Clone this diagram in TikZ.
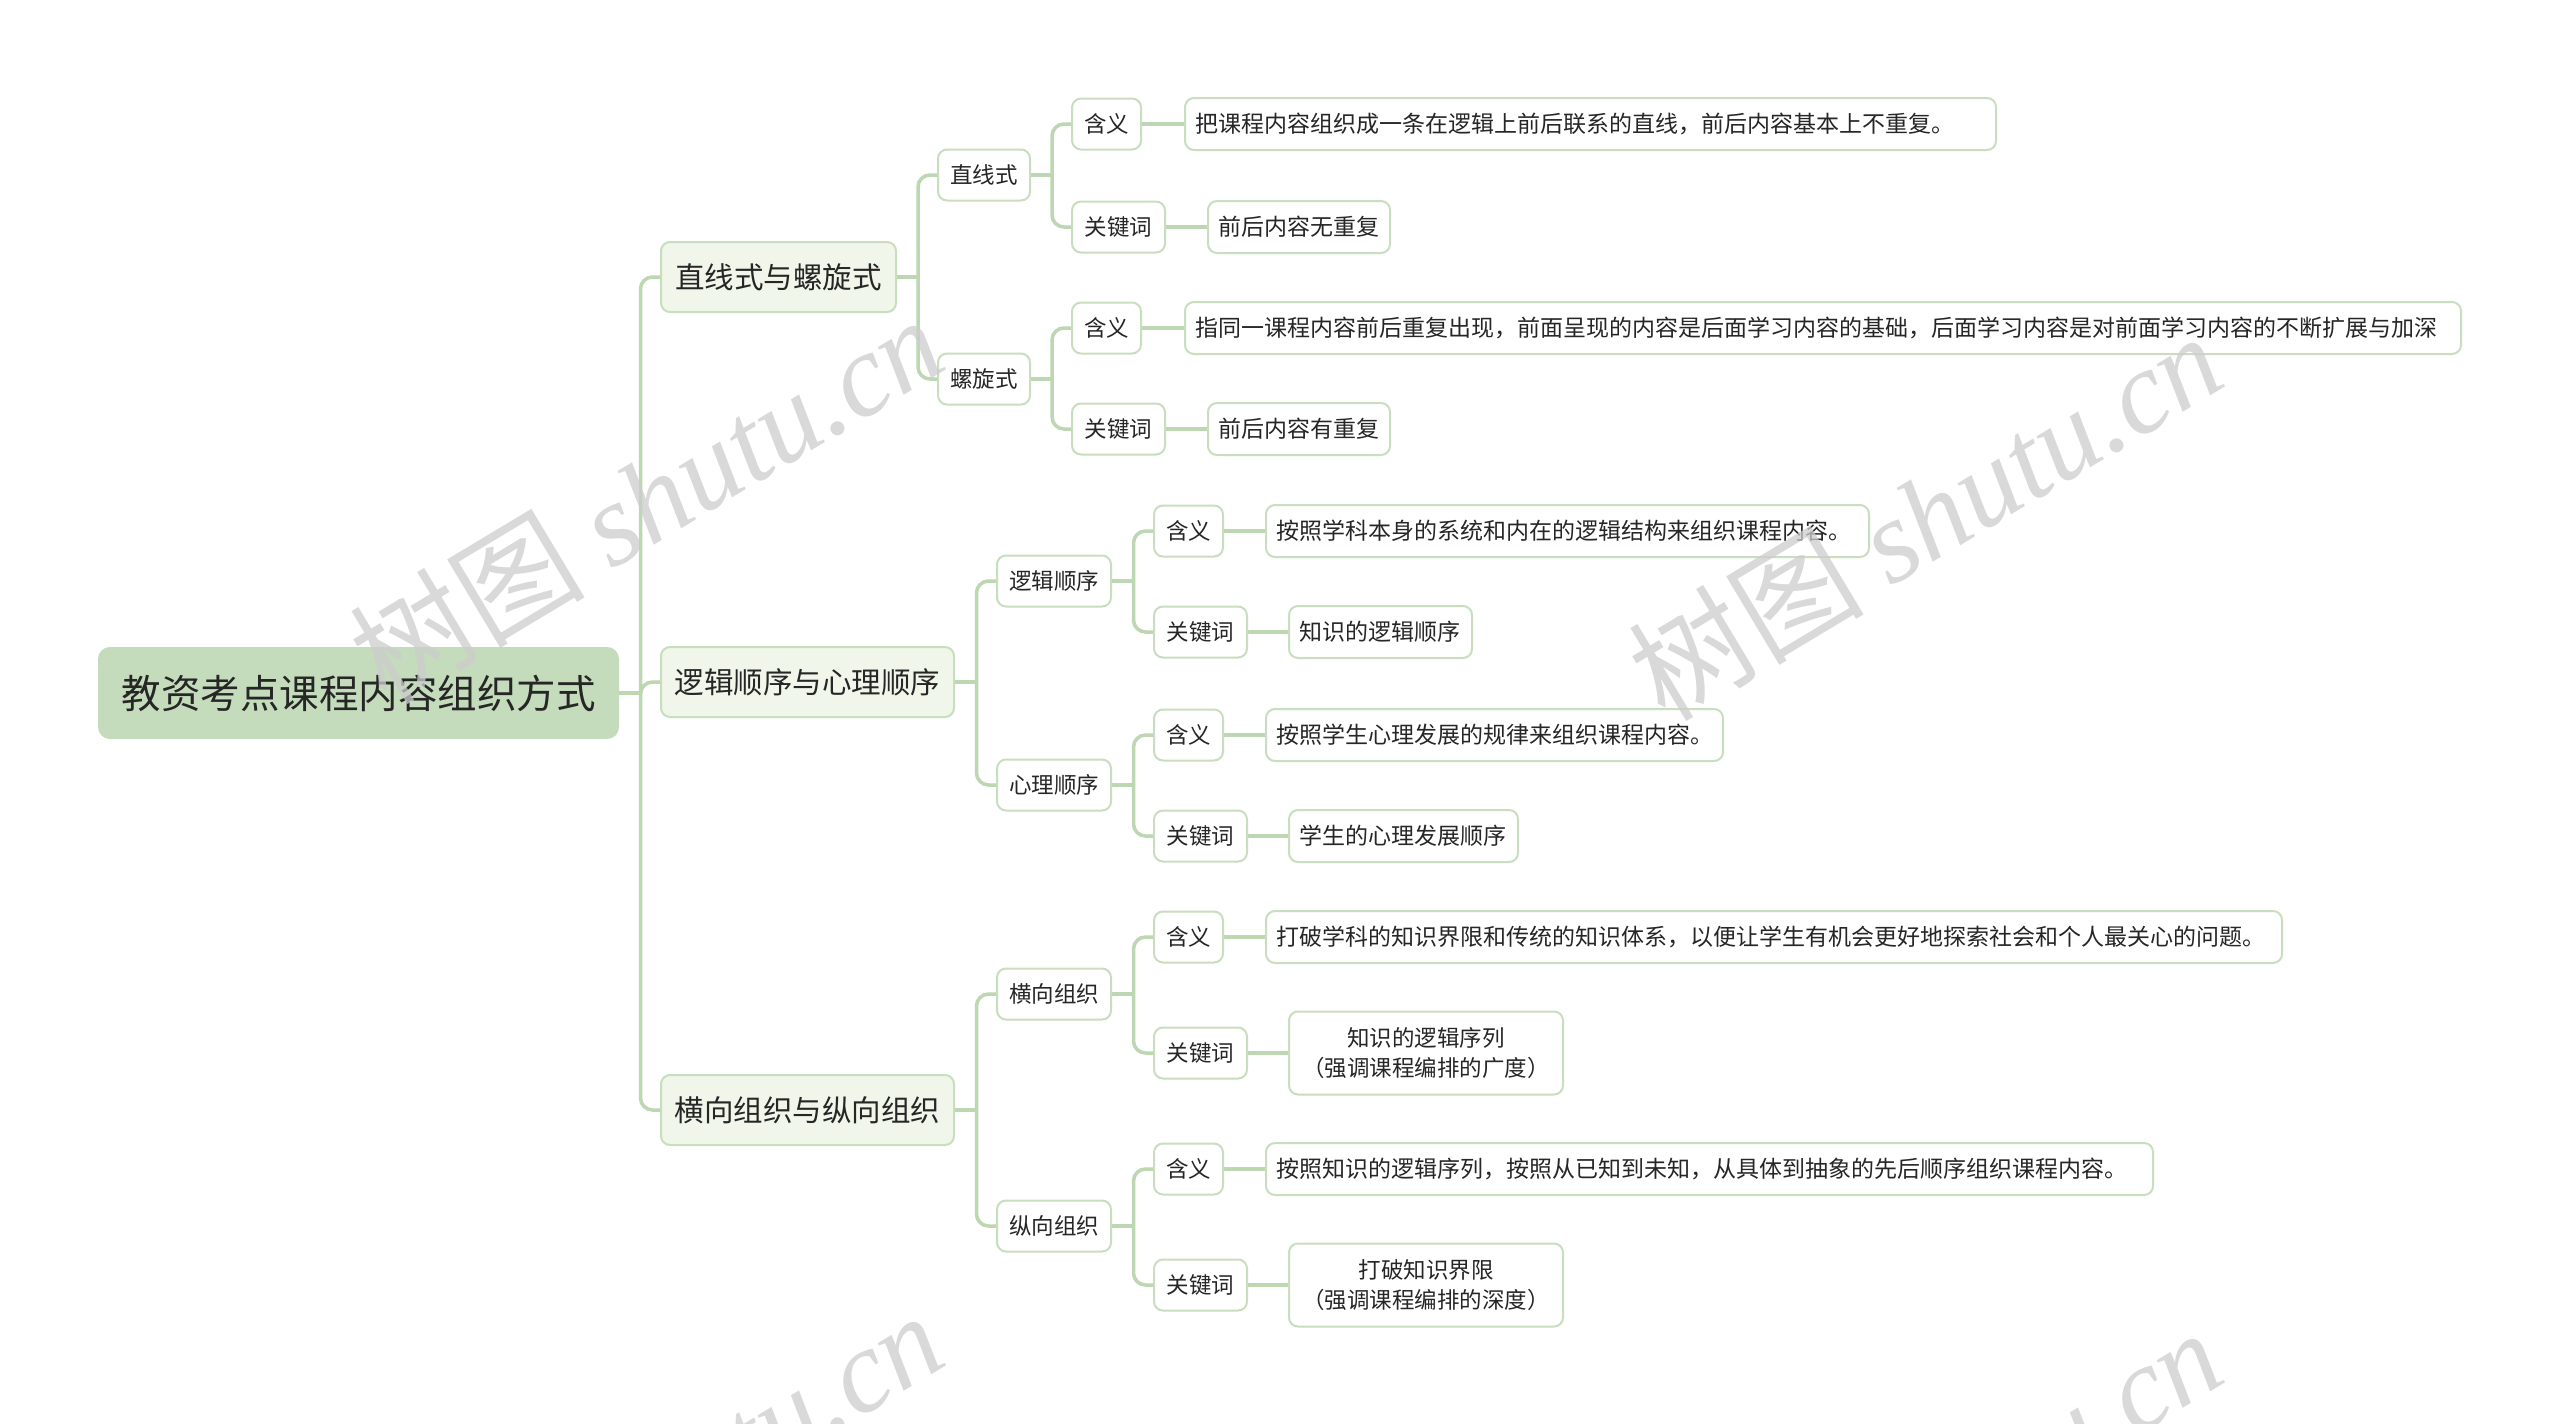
\documentclass[tikz,border=0pt]{standalone}
\usepackage{fontspec}
\newfontfamily\cjk{Noto Sans CJK SC}
\newfontfamily\wmserif{Liberation Serif}
\usetikzlibrary{calc}
\definecolor{linec}{RGB}{188,215,178}
\definecolor{borderc}{RGB}{200,222,190}
\definecolor{rootfill}{RGB}{196,220,188}
\definecolor{lonefill}{RGB}{240,247,234}
\definecolor{txt}{RGB}{38,38,38}
\definecolor{wmc}{RGB}{205,205,205}
\begin{document}
\begin{tikzpicture}[x=1pt,y=-1pt,
  base/.style={draw=borderc, line width=2pt, rounded corners=9pt, text=txt, inner sep=0pt, anchor=west},
  rootbox/.style={base, fill=rootfill, draw=rootfill, rounded corners=11pt, minimum width=519pt, minimum height=90pt, font=\cjk\fontsize{39.5}{47}\selectfont},
  lone/.style={base, fill=lonefill, minimum height=70pt, font=\cjk\fontsize{29.5}{35}\selectfont},
  ltwo/.style={base, fill=white, minimum height=51pt, font=\cjk\fontsize{22.5}{27}\selectfont},
  leaf/.style={base, fill=white, minimum height=52pt, inner xsep=10pt, align=left, font=\cjk\fontsize{23}{28}\selectfont},
  leaftwo/.style={base, fill=white, minimum height=83pt, inner xsep=10pt, align=center, font=\cjk\fontsize{22.5}{29.5}\selectfont},
  conn/.style={draw=linec, line width=3.5pt, rounded corners=12pt},
  wmark/.style={rotate=31, text=wmc, opacity=0.75, inner sep=0pt, font=\cjk\fontsize{118}{124}\selectfont}
]
\fill[white] (0,0) rectangle (2560,1424);
\useasboundingbox (0,0) rectangle (2560,1424);

% root
\node[rootbox] (root) at (98,693) {教资考点课程内容组织方式};

% level 1
\node[lone, minimum width=235pt] (A) at (660,277) {直线式与螺旋式};
\node[lone, minimum width=293pt] (B) at (660,682) {逻辑顺序与心理顺序};
\node[lone, minimum width=293pt] (C) at (660,1110) {横向组织与纵向组织};

% level 2
\node[ltwo, minimum width=92pt] (A1) at (937,175) {直线式};
\node[ltwo, minimum width=92pt] (A2) at (937,379) {螺旋式};
\node[ltwo, minimum width=114pt] (B1) at (996,581) {逻辑顺序};
\node[ltwo, minimum width=114pt] (B2) at (996,785) {心理顺序};
\node[ltwo, minimum width=114pt] (C1) at (996,994) {横向组织};
\node[ltwo, minimum width=114pt] (C2) at (996,1226) {纵向组织};

% level 3
\node[ltwo, minimum width=69pt] (A1m) at (1071,124) {含义};
\node[ltwo, minimum width=93pt] (A1k) at (1071,227) {关键词};
\node[ltwo, minimum width=69pt] (A2m) at (1071,328) {含义};
\node[ltwo, minimum width=93pt] (A2k) at (1071,429) {关键词};
\node[ltwo, minimum width=69pt] (B1m) at (1153,531) {含义};
\node[ltwo, minimum width=93pt] (B1k) at (1153,632) {关键词};
\node[ltwo, minimum width=69pt] (B2m) at (1153,735) {含义};
\node[ltwo, minimum width=93pt] (B2k) at (1153,836) {关键词};
\node[ltwo, minimum width=69pt] (C1m) at (1153,937) {含义};
\node[ltwo, minimum width=93pt] (C1k) at (1153,1053) {关键词};
\node[ltwo, minimum width=69pt] (C2m) at (1153,1169) {含义};
\node[ltwo, minimum width=93pt] (C2k) at (1153,1285) {关键词};

% leaves
\node[leaf, text width=791pt] (A1mt) at (1184,124) {把课程内容组织成一条在逻辑上前后联系的直线，前后内容基本上不重复。};
\node[leaf, text width=162pt] (A1kt) at (1207,227) {前后内容无重复};
\node[leaf, text width=1256pt] (A2mt) at (1184,328) {指同一课程内容前后重复出现，前面呈现的内容是后面学习内容的基础，后面学习内容是对前面学习内容的不断扩展与加深};
\node[leaf, text width=162pt] (A2kt) at (1207,429) {前后内容有重复};
\node[leaf, text width=583pt] (B1mt) at (1265,531) {按照学科本身的系统和内在的逻辑结构来组织课程内容。};
\node[leaf, text width=163pt] (B1kt) at (1288,632) {知识的逻辑顺序};
\node[leaf, text width=437pt] (B2mt) at (1265,735) {按照学生心理发展的规律来组织课程内容。};
\node[leaf, text width=209pt] (B2kt) at (1288,836) {学生的心理发展顺序};
\node[leaf, text width=996pt] (C1mt) at (1265,937) {打破学科的知识界限和传统的知识体系，以便让学生有机会更好地探索社会和个人最关心的问题。};
\node[leaftwo, text width=254pt] (C1kt) at (1288,1053) {知识的逻辑序列\\（强调课程编排的广度）};
\node[leaf, text width=867pt] (C2mt) at (1265,1169) {按照知识的逻辑序列，按照从已知到未知，从具体到抽象的先后顺序组织课程内容。};
\node[leaftwo, text width=254pt] (C2kt) at (1288,1285) {打破知识界限\\（强调课程编排的深度）};

% junction points
\coordinate (rootj) at ($(root.east)+(21.5,0)$);
\coordinate (Aj) at ($(A.east)+(21,0)$);
\coordinate (Bj) at ($(B.east)+(21.5,0)$);
\coordinate (Cj) at ($(C.east)+(21.5,0)$);
\coordinate (A1j) at ($(A1.east)+(21,0)$);
\coordinate (A2j) at ($(A2.east)+(21,0)$);
\coordinate (B1j) at ($(B1.east)+(21.5,0)$);
\coordinate (B2j) at ($(B2.east)+(21.5,0)$);
\coordinate (C1j) at ($(C1.east)+(21.5,0)$);
\coordinate (C2j) at ($(C2.east)+(21.5,0)$);

% connectors
\draw[conn] (root.east) -- (rootj);
\foreach \c in {A,B,C} \draw[conn] (rootj) |- (\c.west);
\foreach \p/\a/\b in {A/A1/A2,B/B1/B2,C/C1/C2}{
  \draw[conn] (\p.east) -- (\p j);
  \draw[conn] (\p j) |- (\a.west);
  \draw[conn] (\p j) |- (\b.west);
}
\foreach \p in {A1,A2,B1,B2,C1,C2}{
  \draw[conn] (\p.east) -- (\p j);
  \draw[conn] (\p j) |- (\p m.west);
  \draw[conn] (\p j) |- (\p k.west);
  \draw[conn] (\p m.east) -- (\p mt.west);
  \draw[conn] (\p k.east) -- (\p kt.west);
}

% watermarks
\begin{scope}
\clip (0,0) rectangle (2560,1424);
\node[wmark] (wm1) at (646,498) {树图\ {\wmserif\itshape shutu.cn}};
\node[wmark] (wm2) at (1925,515) {树图\ {\wmserif\itshape shutu.cn}};
\node[wmark] (wm3) at (646,1494) {树图\ {\wmserif\itshape shutu.cn}};
\node[wmark] (wm4) at (1925,1511) {树图\ {\wmserif\itshape shutu.cn}};
\end{scope}
\end{tikzpicture}
\end{document}
